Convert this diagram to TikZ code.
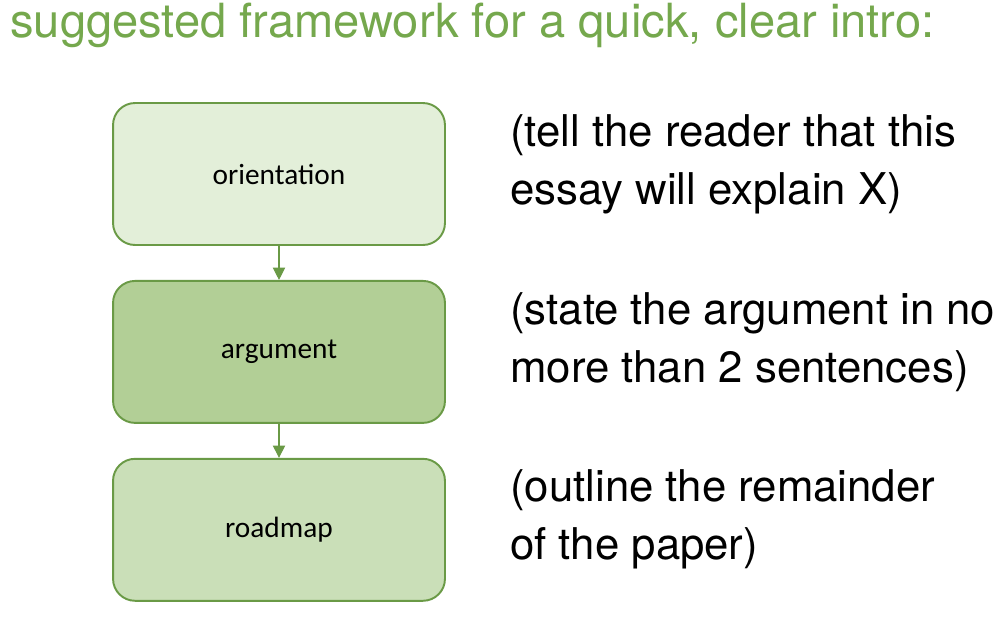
\documentclass[tikz,border=0pt]{standalone}
\usepackage{fontspec}
\setmainfont{TeX Gyre Heros}
\newfontfamily\boxfont{Carlito}
\usetikzlibrary{positioning, arrows.meta}

\definecolor{titlegreen}{HTML}{75A84D}
\definecolor{edgegreen}{HTML}{6A9A46}
\definecolor{paleA}{HTML}{E3EFD9}
\definecolor{paleB}{HTML}{B2CF96}
\definecolor{paleC}{HTML}{CADFB8}

\tikzset{
  stepbox/.style={draw=edgegreen, line width=1.1pt, rounded corners=0.44cm,
    minimum width=6.64cm, minimum height=2.84cm, inner sep=0pt,
    font=\boxfont\fontsize{16.7}{19}\selectfont},
  note/.style={anchor=west, align=left, inner sep=0pt,
    font=\fontsize{24.9}{33}\selectfont},
  link/.style={draw=edgegreen, line width=0.6pt, -{Triangle[length=7pt,width=7pt]}}
}

\begin{document}
\begin{tikzpicture}[x=0.02cm, y=-0.02cm, node distance=0.68cm]
  \useasboundingbox (0,0) rectangle (1000,616);

  % --- Title ---
  \node[anchor=base west, inner sep=0pt, text=titlegreen,
    font=\fontsize{26.8}{30}\selectfont] (title) at (10,37)
    {suggested framework for a quick, clear intro:};

  % --- Boxes ---
  \node[stepbox, fill=paleA] (orient) at (279,174) {orientation};
  \node[stepbox, fill=paleB, below=of orient] (argue) {argument};
  \node[stepbox, fill=paleC, below=of argue] (road) {roadmap};

  % --- Connectors ---
  \draw[link] (orient) -- (argue);
  \draw[link] (argue) -- (road);

  % --- Notes on the right ---
  \node[note, right=1.28cm of orient, yshift=0.2cm] (tell)
    {(tell the reader that this\\essay will explain X)};
  \node[note, right=1.28cm of argue, yshift=0.2cm] (state)
    {(state the argument in no\\more than 2 sentences)};
  \node[note, right=1.28cm of road, yshift=0.2cm] (outline)
    {(outline the remainder\\of the paper)};
\end{tikzpicture}
\end{document}
